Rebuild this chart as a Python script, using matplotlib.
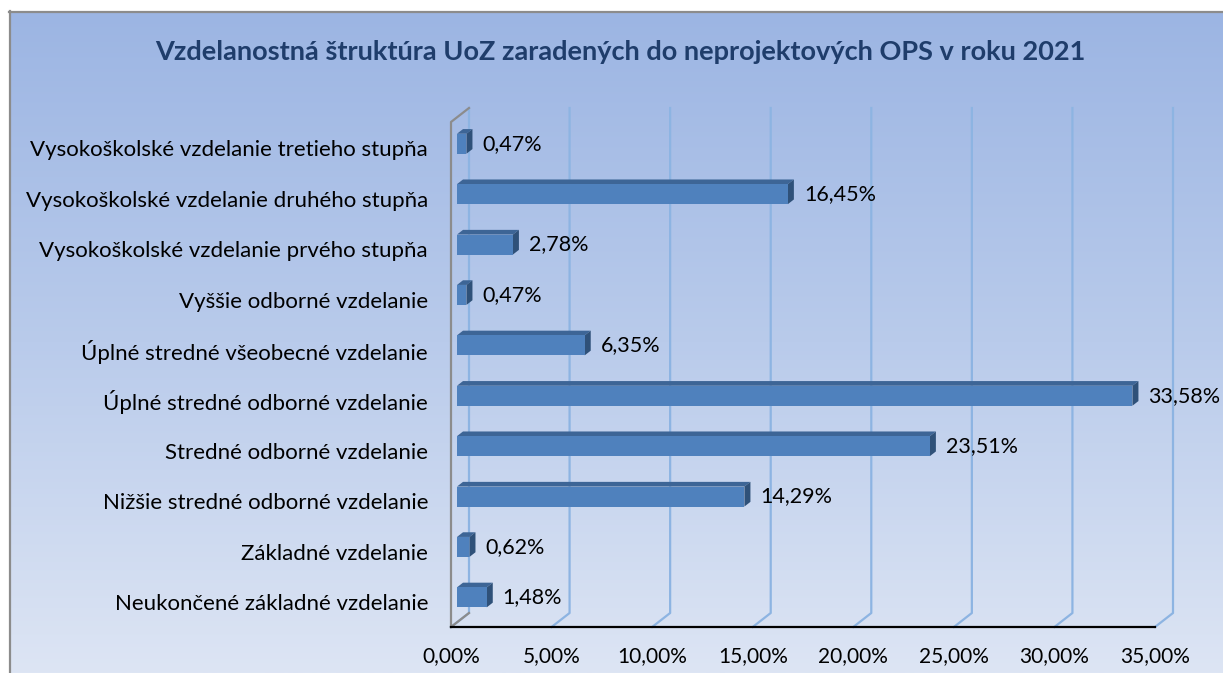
import numpy as np
import matplotlib
matplotlib.use('Agg')
import matplotlib.pyplot as plt
from matplotlib.colors import LinearSegmentedColormap
from matplotlib.patches import Polygon
from matplotlib.lines import Line2D

# ---------------- data ----------------
title = "Vzdelanostná štruktúra UoZ zaradených do neprojektových OPS v roku 2021"
categories = [
    "Neukončené základné vzdelanie",
    "Základné vzdelanie",
    "Nižšie stredné odborné vzdelanie",
    "Stredné odborné vzdelanie",
    "Úplné stredné odborné vzdelanie",
    "Úplné stredné všeobecné vzdelanie",
    "Vyššie odborné vzdelanie",
    "Vysokoškolské vzdelanie prvého stupňa",
    "Vysokoškolské vzdelanie druhého stupňa",
    "Vysokoškolské vzdelanie tretieho stupňa",
]
values = [1.48, 0.62, 14.29, 23.51, 33.58, 6.35, 0.47, 2.78, 16.45, 0.47]
xticks = [0, 5, 10, 15, 20, 25, 30, 35]
xtick_labels = ["0,00%", "5,00%", "10,00%", "15,00%", "20,00%", "25,00%", "30,00%", "35,00%"]

FONT = ['Lato', 'DejaVu Sans']
plt.rcParams['font.family'] = FONT

W, H = 1223, 673
fig = plt.figure(figsize=(W / 100, H / 100), dpi=100)
fig.patch.set_facecolor('white')

# background gradient panel
bg = fig.add_axes([9 / W, 0, 1 - 9 / W, 1 - 11 / H])
grad = np.linspace(0, 1, 256).reshape(-1, 1)
cmap = LinearSegmentedColormap.from_list('bg', ['#9cb5e3', '#b9cbeb', '#dde5f4'])
bg.imshow(grad, aspect='auto', cmap=cmap, extent=[0, 1, 0, 1], origin='upper')
bg.set_axis_off()
fig.add_artist(Line2D([9.5 / W, 9.5 / W], [0, 1 - 11 / H], color='#8c8c8c', lw=1.6))
fig.add_artist(Line2D([9 / W, 1], [1 - 11.5 / H, 1 - 11.5 / H], color='#8c8c8c', lw=1.6))

fig.text(620 / W, 1 - 52 / H, title, ha='center', va='center', fontsize=19.5,
         fontweight='bold', color='#1f3d6b')

# main axes (front plane)
L, R, B, T = 451, 1155, 627, 122
ax = fig.add_axes([L / W, 1 - B / H, (R - L) / W, (B - T) / H])
ax.patch.set_alpha(0)
ymin = -0.496
unit_px = 50.4
ymax = ymin + (B - T) / unit_px
ax.set_xlim(0, 35)
ax.set_ylim(ymin, ymax)
for s in ax.spines.values():
    s.set_visible(False)

px_x = 35 / (R - L)      # data units per pixel (x)
px_y = 1 / unit_px       # data units per pixel (y)
DX, DY = 18 * px_x, 14 * px_y   # full depth

# gridlines
for t in xticks:
    ax.plot([t, t + DX, t + DX], [ymin, ymin + DY, ymax + DY], color='#8db4e2',
            lw=1.6, clip_on=False, zorder=1)
# left wall edge
ax.plot([0, 0, DX], [ymin, ymax, ymax + DY], color='#8c8c8c', lw=1.6, clip_on=False, zorder=2)
ax.plot([0, DX], [ymin, ymin + DY], color='#8c8c8c', lw=1.6, clip_on=False, zorder=2)
# floor front line
ax.plot([0, 35], [ymin, ymin], color='black', lw=1.6, clip_on=False, zorder=5)

# bars
h = 20 * px_y
d1x, d1y = DX / 3, DY / 3
d2x, d2y = 2 * DX / 3, 2 * DY / 3
for i, v in enumerate(values):
    y0, y1 = i - h / 2, i + h / 2
    front = [(d1x, y0 + d1y), (v + d1x, y0 + d1y), (v + d1x, y1 + d1y), (d1x, y1 + d1y)]
    top = [(d1x, y1 + d1y), (v + d1x, y1 + d1y), (v + d2x, y1 + d2y), (d2x, y1 + d2y)]
    side = [(v + d1x, y0 + d1y), (v + d2x, y0 + d2y), (v + d2x, y1 + d2y), (v + d1x, y1 + d1y)]
    ax.add_patch(Polygon(top, closed=True, fc='#3d6596', ec='none', zorder=3, clip_on=False))
    ax.add_patch(Polygon(side, closed=True, fc='#2f5179', ec='none', zorder=3, clip_on=False))
    ax.add_patch(Polygon(front, closed=True, fc='#4f81bd', ec='none', zorder=4, clip_on=False))
    ax.text(v + d1x + 16 * px_x, i + d1y, f"{v:.2f}%".replace('.', ','), ha='left',
            va='center', fontsize=15.5, color='black', zorder=6)

ax.set_yticks(range(len(categories)))
ax.set_yticklabels(categories, fontsize=16)
ax.set_xticks(xticks)
ax.set_xticklabels(xtick_labels, fontsize=15)
ax.tick_params(axis='y', length=0, pad=16.5)
ax.tick_params(axis='x', length=0, pad=14)

fig.savefig('out.png', dpi=100, facecolor='white')
